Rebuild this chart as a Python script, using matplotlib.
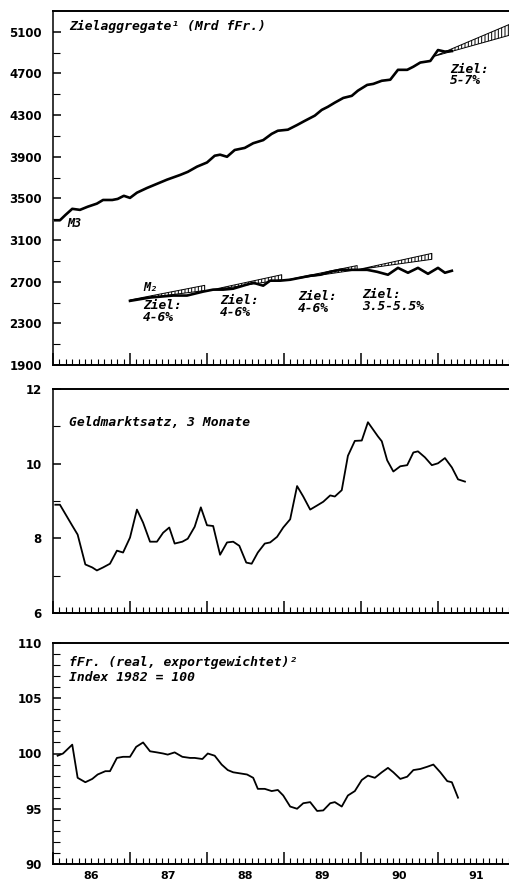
import matplotlib
matplotlib.use('Agg')
import matplotlib.pyplot as plt
import numpy as np

plt.rcParams['hatch.linewidth'] = 0.7

# --- Zielaggregate (Mrd fFr.) ---
m3_t = [1986.03, 1986.09, 1986.16, 1986.25, 1986.35, 1986.45, 1986.57, 1986.65, 1986.77, 1986.84,
        1986.92, 1987.00, 1987.09, 1987.22, 1987.35, 1987.48, 1987.65, 1987.75, 1987.87, 1988.00,
        1988.10, 1988.17, 1988.26, 1988.36, 1988.49, 1988.60, 1988.73, 1988.84, 1988.92, 1989.05,
        1989.17, 1989.27, 1989.40, 1989.49, 1989.57, 1989.66, 1989.77, 1989.88, 1989.96, 1990.08,
        1990.16, 1990.27, 1990.38, 1990.48, 1990.60, 1990.68, 1990.77, 1990.90, 1991.00, 1991.09,
        1991.18]
m3 = [3290, 3290, 3340, 3400, 3390, 3420, 3450, 3485, 3485, 3495,
      3525, 3505, 3555, 3600, 3640, 3680, 3725, 3755, 3805, 3845,
      3910, 3920, 3900, 3965, 3985, 4030, 4060, 4120, 4150, 4160,
      4205, 4245, 4295, 4350, 4380, 4420, 4465, 4485, 4535, 4590,
      4600, 4630, 4640, 4735, 4735, 4765, 4805, 4820, 4925, 4910,
      4915]

m2_t = [1987.00, 1987.26, 1987.56, 1987.74, 1987.95, 1988.08, 1988.21, 1988.34, 1988.47, 1988.60,
        1988.73, 1988.82, 1988.95, 1989.08, 1989.21, 1989.34, 1989.47, 1989.60, 1989.73, 1989.86,
        1989.99, 1990.08, 1990.21, 1990.35, 1990.48, 1990.61, 1990.74, 1990.87, 1991.00, 1991.09,
        1991.18]
m2 = [2516, 2548, 2567, 2567, 2605, 2624, 2624, 2633, 2662, 2690,
      2662, 2710, 2710, 2719, 2738, 2757, 2767, 2795, 2814, 2814,
      2814, 2814, 2795, 2767, 2833, 2786, 2833, 2776, 2833, 2786,
      2805]

# target corridors: start, end, base value, upper / lower end value
cone_start = [1987.00, 1988.00, 1989.00, 1989.95, 1990.95]
cone_end = [1987.97, 1988.97, 1989.95, 1990.92, 1992.00]
cone_base = [2525, 2612, 2712, 2815, 4865]
cone_hi = [2665, 2767, 2855, 2972, 5194]
cone_lo = [2615, 2719, 2815, 2915, 5082]
cone_text = ['Ziel:\n4-6%', 'Ziel:\n4-6%', 'Ziel:\n4-6%', 'Ziel:\n3.5-5.5%', 'Ziel:\n5-7%']
cone_text_pos = [(1987.17, 2530), (1988.17, 2580), (1989.18, 2617), (1990.01, 2637), (1991.16, 4805)]

# --- Geldmarktsatz, 3 Monate ---
gm_t = [1986.03, 1986.09, 1986.25, 1986.32, 1986.42, 1986.51, 1986.57, 1986.65, 1986.74, 1986.83,
        1986.91, 1987.00, 1987.09, 1987.17, 1987.26, 1987.35, 1987.43, 1987.51, 1987.58, 1987.68,
        1987.75, 1987.84, 1987.92, 1988.00, 1988.08, 1988.17, 1988.26, 1988.34, 1988.42, 1988.51,
        1988.58, 1988.66, 1988.75, 1988.82, 1988.91, 1988.99, 1989.08, 1989.17, 1989.25, 1989.34,
        1989.43, 1989.51, 1989.60, 1989.66, 1989.75, 1989.83, 1989.92, 1990.01, 1990.09, 1990.22,
        1990.27, 1990.34, 1990.42, 1990.51, 1990.60, 1990.68, 1990.74, 1990.83, 1990.92, 1991.00,
        1991.09, 1991.18, 1991.26, 1991.35]
gm = [8.90, 8.90, 8.34, 8.10, 7.30, 7.22, 7.14, 7.22, 7.32, 7.67,
      7.62, 8.02, 8.77, 8.42, 7.91, 7.91, 8.15, 8.29, 7.86, 7.91,
      7.99, 8.31, 8.83, 8.35, 8.33, 7.56, 7.89, 7.91, 7.80, 7.35,
      7.32, 7.62, 7.86, 7.89, 8.04, 8.29, 8.51, 9.40, 9.12, 8.77,
      8.88, 8.98, 9.15, 9.12, 9.29, 10.21, 10.61, 10.62, 11.11, 10.73,
      10.60, 10.09, 9.79, 9.93, 9.96, 10.30, 10.33, 10.17, 9.96, 10.01,
      10.15, 9.90, 9.58, 9.52]

# --- fFr. real, exportgewichtet ---
ff_t = [1986.06, 1986.13, 1986.25, 1986.32, 1986.42, 1986.51, 1986.58, 1986.68, 1986.74, 1986.83,
        1986.91, 1987.00, 1987.08, 1987.17, 1987.26, 1987.35, 1987.43, 1987.49, 1987.58, 1987.68,
        1987.78, 1987.84, 1987.94, 1988.01, 1988.10, 1988.19, 1988.27, 1988.34, 1988.43, 1988.52,
        1988.60, 1988.66, 1988.75, 1988.84, 1988.92, 1988.99, 1989.08, 1989.17, 1989.25, 1989.34,
        1989.43, 1989.51, 1989.60, 1989.66, 1989.75, 1989.83, 1989.92, 1990.01, 1990.09, 1990.18,
        1990.27, 1990.35, 1990.42, 1990.51, 1990.60, 1990.68, 1990.77, 1990.86, 1990.94, 1991.03,
        1991.12, 1991.18, 1991.26]
ff = [99.8, 100.0, 100.8, 97.8, 97.4, 97.7, 98.1, 98.4, 98.4, 99.6,
      99.7, 99.7, 100.6, 101.0, 100.2, 100.1, 100.0, 99.9, 100.1, 99.7,
      99.6, 99.6, 99.5, 100.0, 99.8, 99.0, 98.5, 98.3, 98.2, 98.1,
      97.8, 96.8, 96.8, 96.6, 96.7, 96.2, 95.2, 95.0, 95.5, 95.6,
      94.8, 94.85, 95.5, 95.6, 95.2, 96.2, 96.6, 97.6, 98.0, 97.8,
      98.3, 98.7, 98.3, 97.7, 97.9, 98.5, 98.6, 98.8, 99.0, 98.3,
      97.5, 97.4, 96.0]

years = [1986, 1987, 1988, 1989, 1990, 1991, 1992]
year_labels = ['86', '87', '88', '89', '90', '91']

mono = dict(family='DejaVu Sans Mono', style='italic', weight='bold')
W, H = 510., 884.

fig = plt.figure(figsize=(5.1, 8.84), dpi=100)


def panel(top, bottom, ylim, major, minor):
    ax = fig.add_axes([53/W, 1-bottom/H, 462/W, (bottom-top)/H])
    ax.set_xlim(1986, 1992)
    ax.set_ylim(*ylim)
    ax.spines['right'].set_visible(False)
    for s in ['top', 'bottom']:
        ax.spines[s].set_linewidth(1.4)
    ax.spines['left'].set_linewidth(1.1)
    ax.set_xticks(years)
    ax.set_xticks(np.arange(1986, 1992, 1/12.), minor=True)
    ax.set_yticks(major)
    ax.set_yticks(minor, minor=True)
    ax.tick_params(axis='x', which='major', direction='in', length=9, width=1.1, labelbottom=False, top=False)
    ax.tick_params(axis='x', which='minor', direction='in', length=4, width=0.8, top=False)
    ax.tick_params(axis='y', which='major', direction='in', length=6, width=1.1, pad=8, right=False)
    ax.tick_params(axis='y', which='minor', direction='in', length=5, width=0.8, right=False)
    for lb in ax.get_yticklabels():
        lb.set_fontsize(8.5)
        lb.set_fontweight('bold')
    return ax


# panel 1
ax1 = panel(11, 365, (1900, 5300), np.arange(1900, 5101, 400), np.arange(2100, 5300, 400))
for i in range(len(cone_start)):
    ax1.fill_between([cone_start[i], cone_end[i]], [cone_base[i], cone_lo[i]], [cone_base[i], cone_hi[i]],
                     facecolor='white', edgecolor='black', hatch='|||||', lw=0.7, zorder=2)
    ax1.text(cone_text_pos[i][0], cone_text_pos[i][1], cone_text[i], fontsize=9.3, va='top', ha='left',
             linespacing=0.85, **mono)
ax1.plot(m3_t, m3, color='black', lw=1.9, zorder=3)
ax1.plot(m2_t, m2, color='black', lw=1.9, zorder=3)
ax1.text(1986.21, 5148, 'Zielaggregate\u00b9 (Mrd fFr.)', fontsize=9.4, va='center', **mono)
ax1.text(1986.18, 3262, 'M3', fontsize=8.5, va='center', **mono)
ax1.text(1987.17, 2648, 'M\u2082', fontsize=8.5, va='center', **mono)

# panel 2
ax2 = panel(389, 613, (6, 12), [6, 8, 10, 12], [7, 9, 11])
ax2.plot(gm_t, gm, color='black', lw=1.3)
ax2.text(1986.21, 11.1, 'Geldmarktsatz, 3 Monate', fontsize=9.4, va='center', **mono)

# panel 3
ax3 = panel(643, 864, (90, 110), [90, 95, 100, 105, 110], np.arange(91, 110, 1))
ax3.plot(ff_t, ff, color='black', lw=1.3)
ax3.text(1986.21, 108.2, 'fFr. (real, exportgewichtet)\u00b2', fontsize=9.4, va='center', **mono)
ax3.text(1986.21, 106.9, 'Index 1982 = 100', fontsize=9.4, va='center', **mono)

sec = ax3.secondary_xaxis('bottom')
sec.set_xticks(np.array(years[:-1]) + 0.5)
sec.set_xticklabels(year_labels)
sec.tick_params(length=0, pad=5)
for lb in sec.get_xticklabels():
    lb.set_fontsize(8)
    lb.set_fontweight('bold')
sec.spines['bottom'].set_visible(False)

fig.savefig('out.png', dpi=100)
